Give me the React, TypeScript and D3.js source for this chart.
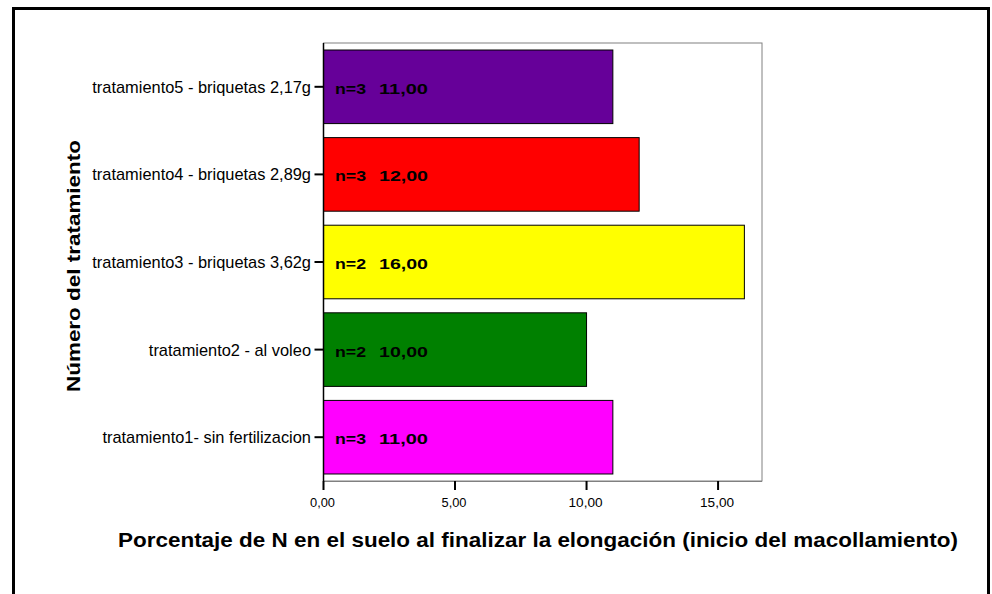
import React from "react";
import * as d3 from "d3";

const categories = [
  "tratamiento5 - briquetas 2,17g",
  "tratamiento4 - briquetas 2,89g",
  "tratamiento3 - briquetas 3,62g",
  "tratamiento2 - al voleo",
  "tratamiento1- sin fertilizacion",
];
const values = [11, 12, 16, 10, 11];
const counts = [3, 3, 2, 2, 3];
const colors = ["#660099", "#ff0000", "#ffff00", "#008000", "#ff00ff"];
const xTicks = [0, 5, 10, 15];

const fmt = (v: number) => v.toFixed(2).replace(".", ",");

export default function App() {
  const W = 992, H = 594;
  const left = 323.5, right = 762, top = 43, bottom = 481;
  const x = d3.scaleLinear().domain([0, 16.67]).range([left, right]);
  const y = d3.scaleBand<string>().domain(categories).range([top, bottom]).paddingInner(0.16).paddingOuter(0.08);
  const font = "'Liberation Sans', Arial, sans-serif";
  return (
    <svg width={W} height={H} style={{ position: "absolute", left: 0, top: 0, background: "#fff" }} fontFamily={font}>
      <rect x={0} y={0} width={W} height={H} fill="#fff" />
      <rect x={13.5} y={8.5} width={975} height={620} fill="none" stroke="#000" strokeWidth={3} />
      <rect x={left} y={top} width={right - left} height={bottom - top} fill="#fff" stroke="#808080" strokeWidth={1} />
      {categories.map((c, i) => {
        const cy = y(c)! + y.bandwidth() / 2;
        return (
          <g key={c}>
            <rect x={x(0)} y={y(c)!} width={x(values[i]) - x(0)} height={y.bandwidth()} fill={colors[i]} stroke="#000" strokeWidth={1} />
            <text x={x(0) + 11.5} y={cy + 7} fontSize={15.5} fontWeight="bold" fill="#000" textLength={31} lengthAdjust="spacingAndGlyphs">
              {`n=${counts[i]}`}
            </text>
            <text x={x(0) + 55.5} y={cy + 7} fontSize={15.5} fontWeight="bold" fill="#000" textLength={49} lengthAdjust="spacingAndGlyphs">
              {fmt(values[i])}
            </text>
            <line x1={left - 9} x2={left} y1={cy} y2={cy} stroke="#000" strokeWidth={2} />
            <text x={left - 12.5} y={cy + 6} fontSize={16.4} textAnchor="end" fill="#000">
              {c}
            </text>
          </g>
        );
      })}
      <line x1={left} x2={left} y1={top} y2={bottom} stroke="#000" strokeWidth={1.5} />
      <line x1={left} x2={right} y1={bottom + 0.5} y2={bottom + 0.5} stroke="#808080" strokeWidth={1} />
      {xTicks.map((t) => (
        <g key={t}>
          <line x1={x(t)} x2={x(t)} y1={bottom} y2={bottom + 9} stroke="#000" strokeWidth={2} />
          <text x={x(t) - 1} y={507} textAnchor="middle" fontSize={12} fill="#000" textLength={t >= 10 ? 34 : 25} lengthAdjust="spacingAndGlyphs">
            {fmt(t)}
          </text>
        </g>
      ))}
      <text x={538} y={547} textAnchor="middle" fontSize={19.5} fontWeight="bold" fill="#000" textLength={840} lengthAdjust="spacingAndGlyphs">
        Porcentaje de N en el suelo al finalizar la elongación (inicio del macollamiento)
      </text>
      <text transform="translate(80,266) rotate(-90)" textAnchor="middle" fontSize={17.5} fontWeight="bold" fill="#000" textLength={252} lengthAdjust="spacingAndGlyphs">
        Número del tratamiento
      </text>
    </svg>
  );
}
